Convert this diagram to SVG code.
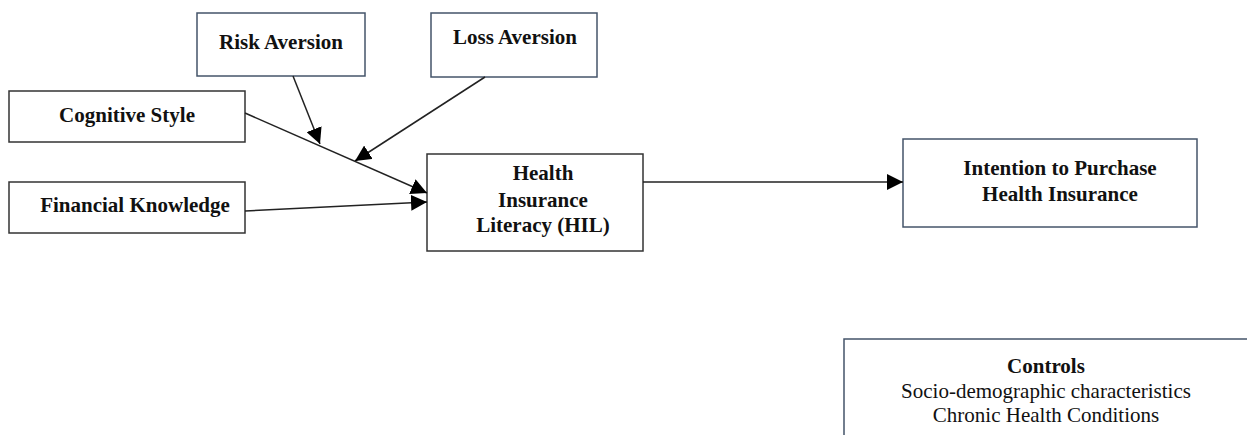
<svg xmlns="http://www.w3.org/2000/svg" width="1247" height="435" viewBox="0 0 1247 435">
  <style>
    .box { fill: #ffffff; stroke-width: 1.5; }
    .dark { stroke: #333333; }
    .blue { stroke: #44546a; }
    .lbl { font-family: "Liberation Serif", "Times New Roman", serif; font-size: 21px; fill: #111111; text-anchor: middle; }
    .b { font-weight: bold; }
    .conn line { stroke: #222222; stroke-width: 1.5; fill: none; marker-end: url(#arrow); }
  </style>
  <defs>
    <marker id="arrow" markerUnits="userSpaceOnUse" markerWidth="16" markerHeight="16" refX="16" refY="8" orient="auto">
      <path d="M0,0 L16,8 L0,16 z" fill="#000000"/>
    </marker>
  </defs>
  <rect width="1247" height="435" fill="#ffffff"/>

  <g id="risk-aversion">
    <rect class="box blue" x="197" y="13" width="168" height="63"/>
    <text class="lbl b" x="281" y="49">Risk Aversion</text>
  </g>

  <g id="loss-aversion">
    <rect class="box blue" x="431" y="13" width="166" height="64"/>
    <text class="lbl b" x="515" y="44">Loss Aversion</text>
  </g>

  <g id="cognitive-style">
    <rect class="box dark" x="9" y="91" width="236" height="51"/>
    <text class="lbl b" x="127" y="122">Cognitive Style</text>
  </g>

  <g id="financial-knowledge">
    <rect class="box dark" x="9" y="182" width="236" height="51"/>
    <text class="lbl b" x="135" y="212">Financial Knowledge</text>
  </g>

  <g id="hil">
    <rect class="box dark" x="427" y="154" width="216" height="97"/>
    <text class="lbl b" x="543" y="180">Health</text>
    <text class="lbl b" x="543" y="207">Insurance</text>
    <text class="lbl b" x="543" y="232">Literacy (HIL)</text>
  </g>

  <g id="intention">
    <rect class="box blue" x="903" y="139" width="294" height="88"/>
    <text class="lbl b" x="1060" y="175">Intention to Purchase</text>
    <text class="lbl b" x="1060" y="201">Health Insurance</text>
  </g>

  <g id="controls">
    <rect class="box blue" x="844" y="339" width="420" height="110"/>
    <text class="lbl b" x="1046" y="373">Controls</text>
    <text class="lbl" x="1046" y="398">Socio-demographic characteristics</text>
    <text class="lbl" x="1046" y="422">Chronic Health Conditions</text>
  </g>

  <g id="connectors" class="conn">
    <line x1="245" y1="113" x2="427" y2="193"/>
    <line x1="245" y1="211" x2="427" y2="202"/>
    <line x1="293" y1="76" x2="320" y2="144"/>
    <line x1="485" y1="77" x2="355" y2="161"/>
    <line x1="643" y1="182" x2="903" y2="182"/>
  </g>
</svg>
